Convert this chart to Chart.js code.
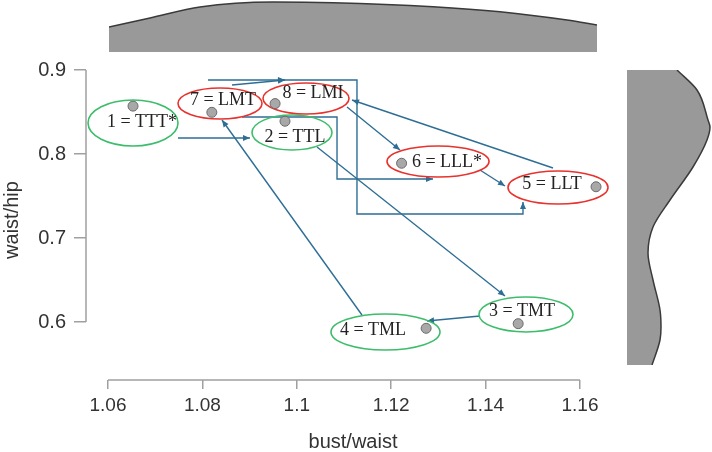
<!DOCTYPE html>
<html><head><meta charset="utf-8">
<script src="https://cdn.jsdelivr.net/npm/chart.js@4"></script>
<style>
html,body{margin:0;padding:0;background:#fff;}
#wrap{position:relative;width:712px;height:452px;overflow:hidden;background:#fff;}
canvas{position:absolute;}
</style></head><body>
<div id="wrap">
<canvas id="main" width="712" height="452" style="left:0;top:0;width:712px;height:452px"></canvas>
<canvas id="top" width="488" height="52" style="left:109px;top:0;width:488px;height:52px"></canvas>
<canvas id="right" width="85" height="295" style="left:627px;top:70px;width:85px;height:295px"></canvas>
</div>
<script>
// ---------- data ----------
const pointLabels = ['1 = TTT*','2 = TTL','3 = TMT','4 = TML','5 = LLT','6 = LLL*','7 = LMT','8 = LMI'];
const bustWaist   = [1.0653, 1.0975, 1.1469, 1.1274, 1.1634, 1.1222, 1.0820, 1.0954];
const waistHip    = [0.857, 0.839, 0.598, 0.5925, 0.761, 0.789, 0.8496, 0.860];
const groupColour = ['green','green','green','green','red','red','red','red'];

const xTicks = [1.06, 1.08, 1.10, 1.12, 1.14, 1.16];
const yTicks = [0.6, 0.7, 0.8, 0.9];

// ellipse centres (data units) for each label
const ellipseX = [1.06530, 1.09898, 1.14856, 1.11879, 1.15534, 1.12992, 1.08373, 1.10195];
const ellipseY = [0.83690, 0.82560, 0.60893, 0.58810, 0.76012, 0.79107, 0.86012, 0.86607];

// transition arrows (paths in data units)
const arrows = [
  [[1.07483,0.81905],[1.09008,0.81905]],                       // 1 -> 2
  [[1.08627,0.88214],[1.09750,0.88810]],                       // 7 -> 8
  [[1.08119,0.88810],[1.11275,0.88810],[1.11275,0.72857],[1.14792,0.72857],[1.14792,0.74286]],
  [[1.08839,0.84405],[1.10852,0.84405],[1.10852,0.77024],[1.12886,0.77024]],
  [[1.11064,0.85595],[1.12186,0.80476]],                       // 8 -> 6
  [[1.13881,0.78095],[1.14411,0.76190]],                       // 6 -> 5
  [[1.15428,0.78333],[1.11169,0.86429]],                       // 5 -> 8
  [[1.10428,0.80833],[1.14411,0.63095]],                       // 2 -> 3
  [[1.13881,0.60714],[1.12758,0.60119]],                       // 3 -> 4
  [[1.11381,0.60833],[1.08415,0.84048]]                        // 4 -> 7
];
// midway arrowhead on the long top connector
const midArrow = [[1.08119,0.88810],[1.09750,0.88810]];

// marginal densities
const topDensX = [1.06021, 1.06890, 1.07949, 1.09496, 1.10767, 1.12886, 1.14305, 1.15725, 1.16360];
const topDensY = [25, 34, 45, 50, 49.3, 45.3, 40.3, 32, 27];
const rightDensY = [0.9, 0.87619, 0.84048, 0.83214, 0.81667, 0.78452, 0.74524, 0.71310, 0.68214, 0.65, 0.61429, 0.59405, 0.57857, 0.54881];
const rightDensX = [50, 70, 81, 83, 80, 66, 43, 26, 21, 26, 33, 34, 33, 25];

// ---------- styles ----------
const SANS = '"Liberation Sans", Arial, Helvetica, sans-serif';
const SERIF = '"Liberation Serif", "Times New Roman", serif';
const AXIS = '#a0a0a0';
const ARROW = '#2e6e95';
const COLOURS = {green:'#3dbd6b', red:'#e8322e'};
const ELL = [[45,23,9,-1],[40,17.5,3,4.5],[47,17.5,-4,-3.5],[54.5,18,-12.5,-2],[50,16.5,-6,-3.5],[51,15.5,9,0.5],[42,15.5,3,-3.5],[43,15.5,7,-5.5]]; // rx, ry, text dx, dy

Chart.defaults.font.family = SANS;

function arrowHead(ctx, x0, y0, x1, y1){
  const a = Math.atan2(y1-y0, x1-x0), L = 7, W = 3;
  ctx.beginPath();
  ctx.moveTo(x1, y1);
  ctx.lineTo(x1 - L*Math.cos(a) + W*Math.sin(a), y1 - L*Math.sin(a) - W*Math.cos(a));
  ctx.lineTo(x1 - L*Math.cos(a) - W*Math.sin(a), y1 - L*Math.sin(a) + W*Math.cos(a));
  ctx.closePath();
  ctx.fill();
}

const annot = {
  id: 'annot',
  beforeDatasetsDraw(chart){
    const {ctx, chartArea, scales:{x, y}} = chart;
    ctx.save();
    // R-style axis lines spanning the tick range
    ctx.strokeStyle = AXIS; ctx.lineWidth = 1.5;
    ctx.beginPath();
    ctx.moveTo(x.getPixelForValue(xTicks[0]), chartArea.bottom);
    ctx.lineTo(x.getPixelForValue(xTicks[xTicks.length-1]), chartArea.bottom);
    ctx.moveTo(chartArea.left, y.getPixelForValue(yTicks[0]));
    ctx.lineTo(chartArea.left, y.getPixelForValue(yTicks[yTicks.length-1]));
    ctx.stroke();
    // arrows
    ctx.strokeStyle = ARROW; ctx.fillStyle = ARROW; ctx.lineWidth = 1.4;
    arrows.forEach(p => {
      const px = p.map(q => [x.getPixelForValue(q[0]), y.getPixelForValue(q[1])]);
      ctx.beginPath();
      px.forEach((q,i) => i ? ctx.lineTo(q[0],q[1]) : ctx.moveTo(q[0],q[1]));
      ctx.stroke();
      const n = px.length;
      arrowHead(ctx, px[n-2][0], px[n-2][1], px[n-1][0], px[n-1][1]);
    });
    {
      const a = midArrow.map(q => [x.getPixelForValue(q[0]), y.getPixelForValue(q[1])]);
      arrowHead(ctx, a[0][0], a[0][1], a[1][0], a[1][1]);
    }
    // ellipses
    ctx.lineWidth = 1.6;
    ellipseX.forEach((ex, i) => {
      ctx.strokeStyle = COLOURS[groupColour[i]];
      ctx.beginPath();
      ctx.ellipse(x.getPixelForValue(ex), y.getPixelForValue(ellipseY[i]), ELL[i][0], ELL[i][1], 0, 0, Math.PI*2);
      ctx.stroke();
    });
    ctx.restore();
  },
  afterDatasetsDraw(chart){
    const {ctx, scales:{x, y}} = chart;
    ctx.save();
    ctx.font = '18px ' + SERIF;
    ctx.fillStyle = '#222';
    ctx.textAlign = 'center';
    ctx.textBaseline = 'middle';
    pointLabels.forEach((t, i) => {
      ctx.fillText(t, x.getPixelForValue(ellipseX[i]) + ELL[i][2], y.getPixelForValue(ellipseY[i]) + ELL[i][3]);
    });
    ctx.restore();
  }
};

const fmt = v => String(+Number(v).toFixed(2));

new Chart(document.getElementById('main'), {
  type: 'scatter',
  data: { datasets: [{
    data: bustWaist.map((v,i) => ({x: v, y: waistHip[i]})),
    pointRadius: 5, pointBackgroundColor: '#a8a8a8', pointBorderColor: '#6a6a6a', pointBorderWidth: 1
  }]},
  options: {
    responsive: false, animation: false, devicePixelRatio: 1,
    layout: { padding: {top: 60, right: 92, bottom: 0, left: 0} },
    plugins: { legend: {display: false}, tooltip: {enabled: false} },
    scales: {
      x: {
        type: 'linear', min: 1.055339, max: 1.168475,
        afterBuildTicks: s => { s.ticks = xTicks.map(v => ({value: v})); },
        afterFit: s => { s.height = 72; },
        grid: {drawOnChartArea: false, drawTicks: true, tickLength: 9, color: AXIS, lineWidth: 1.5},
        border: {display: false},
        ticks: {font: {size: 19}, color: '#333', padding: 5, maxRotation: 0, autoSkip: false, callback: fmt},
        title: {display: true, text: 'bust/waist', font: {size: 20}, color: '#333', padding: {top: 0, bottom: -2}}
      },
      y: {
        type: 'linear', min: 0.530952, max: 0.911905,
        afterBuildTicks: s => { s.ticks = yTicks.map(v => ({value: v})); },
        afterFit: s => { s.width = 86; },
        grid: {drawOnChartArea: false, drawTicks: true, tickLength: 12, color: AXIS, lineWidth: 1.5},
        border: {display: false},
        ticks: {font: {size: 20}, color: '#333', padding: 8, autoSkip: false, callback: fmt},
        title: {display: true, text: 'waist/hip', font: {size: 20}, color: '#333', padding: {top: 0, bottom: 0}}
      }
    }
  },
  plugins: [annot]
});

new Chart(document.getElementById('top'), {
  type: 'line',
  data: { datasets: [{
    data: topDensX.map((v,i) => ({x: v, y: topDensY[i]})),
    fill: 'origin', backgroundColor: '#999999', borderColor: '#3a3a3a', borderWidth: 1.5,
    pointRadius: 0, tension: 0.4, cubicInterpolationMode: 'monotone'
  }]},
  options: {
    responsive: false, animation: false, devicePixelRatio: 1,
    layout: {padding: 0},
    plugins: {legend: {display: false}, tooltip: {enabled: false}},
    scales: {
      x: {type: 'linear', display: false, min: topDensX[0], max: topDensX[topDensX.length-1]},
      y: {type: 'linear', display: false, min: 0, max: 52}
    }
  }
});

new Chart(document.getElementById('right'), {
  type: 'line',
  data: { datasets: [{
    data: rightDensY.map((v,i) => ({x: rightDensX[i], y: v})),
    fill: 'origin', backgroundColor: '#999999', borderColor: '#3a3a3a', borderWidth: 1.5,
    pointRadius: 0, tension: 0.4, cubicInterpolationMode: 'monotone'
  }]},
  options: {
    indexAxis: 'y',
    responsive: false, animation: false, devicePixelRatio: 1,
    layout: {padding: 0},
    plugins: {legend: {display: false}, tooltip: {enabled: false}},
    scales: {
      x: {type: 'linear', display: false, min: 0, max: 85},
      y: {type: 'linear', display: false, min: rightDensY[rightDensY.length-1], max: rightDensY[0]}
    }
  }
});
</script>
</body></html>
